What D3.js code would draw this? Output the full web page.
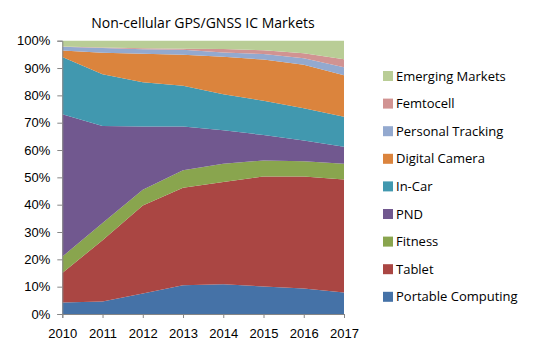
<!DOCTYPE html>
<html>
<head>
<meta charset="utf-8">
<script src="https://cdn.jsdelivr.net/npm/d3@7"></script>
<style>
  body { margin: 0; background: #fff; }
  svg { display: block; font-family: "Open Sans", sans-serif; }
</style>
</head>
<body>
<div id="chart"></div>
<script>
const years = [2010, 2011, 2012, 2013, 2014, 2015, 2016, 2017];

// stacked bottom to top, share of market in %
const categories = [
  "Portable Computing",
  "Tablet",
  "Fitness",
  "PND",
  "In-Car",
  "Digital Camera",
  "Personal Tracking",
  "Femtocell",
  "Emerging Markets",
];

const portableComputing = [4.2, 4.6, 7.5, 10.5, 10.9, 10.1, 9.3, 7.9];
const tablet = [10.8, 22.4, 32.2, 35.7, 37.4, 40.2, 41.0, 41.3];
const fitness = [6.0, 6.3, 5.8, 6.4, 6.7, 5.9, 5.6, 5.8];
const pnd = [52.1, 35.5, 23.1, 16.0, 12.2, 9.3, 7.6, 6.2];
const inCar = [20.9, 18.9, 16.2, 14.9, 13.2, 12.5, 11.8, 11.0];
const digitalCamera = [2.4, 7.9, 10.4, 11.4, 13.7, 15.1, 15.9, 15.2];
const personalTracking = [1.4, 1.7, 1.7, 1.8, 1.6, 2.0, 2.4, 2.9];
const femtocell = [0.1, 0.2, 0.3, 0.4, 1.3, 1.4, 1.8, 2.9];
const emergingMarkets = [2.1, 2.5, 2.8, 2.9, 3.0, 3.5, 4.6, 6.8];

const yTicks = [0, 0.1, 0.2, 0.3, 0.4, 0.5, 0.6, 0.7, 0.8, 0.9, 1];

const colors = [
  "#4572A7", "#AA4643", "#89A54E", "#71588F", "#4198AF",
  "#DB843D", "#93A9CF", "#D19392", "#B9CD96",
];

const series = [
  portableComputing, tablet, fitness, pnd, inCar,
  digitalCamera, personalTracking, femtocell, emergingMarkets,
];

const width = 534;
const height = 351;
const margin = { top: 40.7, right: 190, bottom: 37, left: 62.3 };

// build rows for d3.stack
const table = years.map((year, i) => {
  const row = { year };
  categories.forEach((c, j) => (row[c] = series[j][i]));
  return row;
});

const stacked = d3
  .stack()
  .keys(categories)
  .offset(d3.stackOffsetExpand)(table);

const x = d3
  .scaleLinear()
  .domain(d3.extent(years))
  .range([margin.left, width - margin.right]);

const y = d3
  .scaleLinear()
  .domain([0, 1])
  .range([height - margin.bottom, margin.top]);

const color = d3.scaleOrdinal().domain(categories).range(colors);

const svg = d3
  .select("#chart")
  .append("svg")
  .attr("width", width)
  .attr("height", height);

const area = d3
  .area()
  .x((d) => x(d.data.year))
  .y0((d) => y(d[0]))
  .y1((d) => y(d[1]));

svg
  .append("g")
  .selectAll("path")
  .data(stacked)
  .join("path")
  .attr("fill", (d) => color(d.key))
  .attr("d", area);

// y axis
const yAxis = svg
  .append("g")
  .attr("transform", `translate(${margin.left},0)`)
  .call(
    d3.axisLeft(y)
      .tickValues(yTicks)
      .tickFormat(d3.format(".0%"))
      .tickSize(5)
      .tickPadding(7)
  );

// x axis
const xAxis = svg
  .append("g")
  .attr("transform", `translate(0,${height - margin.bottom})`)
  .call(
    d3.axisBottom(x)
      .tickValues(years)
      .tickFormat(d3.format("d"))
      .tickSize(4)
      .tickPadding(11)
  );

[yAxis, xAxis].forEach((ax) => {
  ax.select(".domain").attr("stroke", "#868686").attr("stroke-width", 1);
  ax.selectAll(".tick line").attr("stroke", "#868686");
  ax.selectAll(".tick text")
    .attr("fill", "#000")
    .style("font-size", "13px");
});

// title
svg
  .append("text")
  .attr("x", 203)
  .attr("y", 28)
  .attr("text-anchor", "middle")
  .style("font-size", "14px")
  .text("Non-cellular GPS/GNSS IC Markets");

// legend, top entry is the top layer
const legend = svg
  .append("g")
  .selectAll("g")
  .data(categories.slice().reverse())
  .join("g")
  .attr("transform", (d, i) => `translate(383,${76 + i * 27.6})`);

legend
  .append("rect")
  .attr("y", -5)
  .attr("width", 10)
  .attr("height", 10)
  .attr("fill", (d) => color(d));

legend
  .append("text")
  .attr("x", 13)
  .attr("dy", "0.35em")
  .style("font-size", "13px")
  .text((d) => d);
</script>
</body>
</html>
